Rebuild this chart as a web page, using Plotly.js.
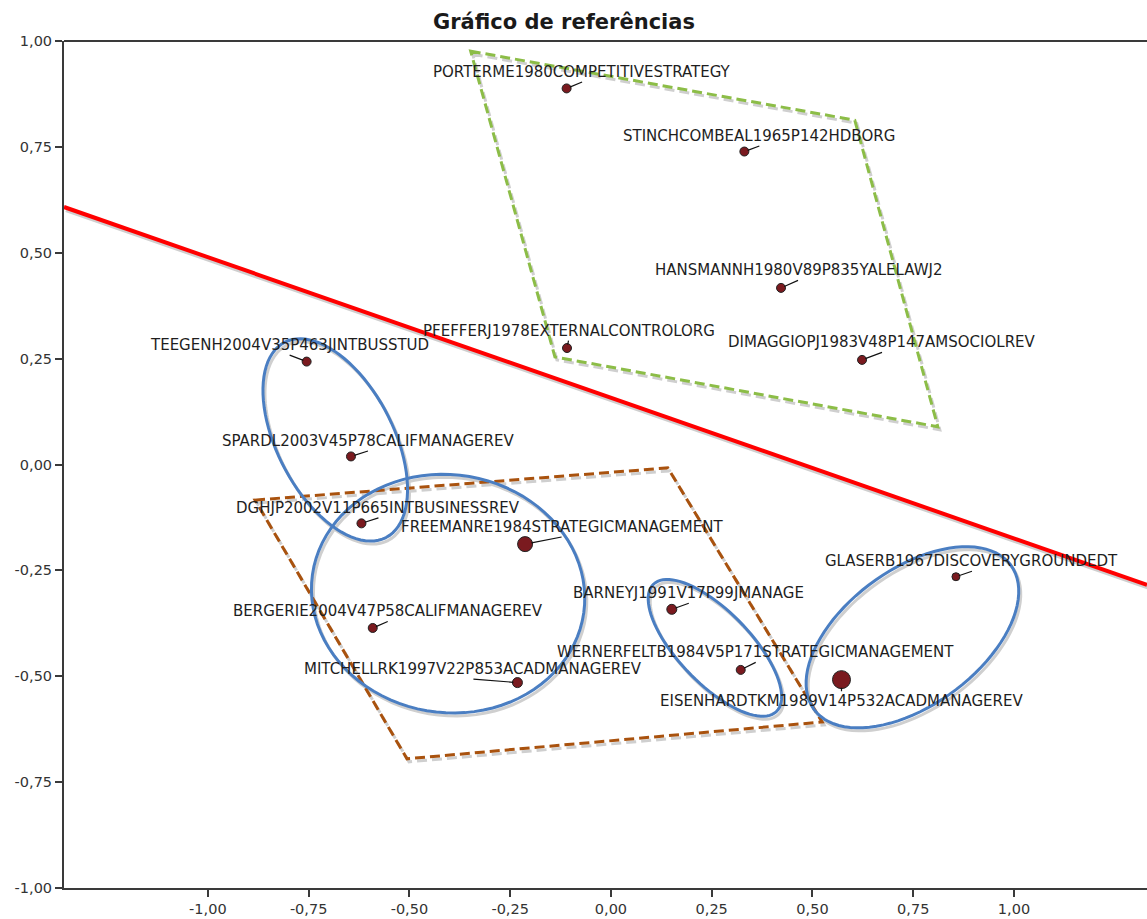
<!DOCTYPE html>
<html><head><meta charset="utf-8">
<script src="https://cdn.plot.ly/plotly-3.0.1.min.js"></script>
<style>html,body{margin:0;padding:0;background:#fff}</style>
</head><body><div id="chart" style="width:1147px;height:919px"></div>
<script>
// ---- data ----
const refNames = [
  "PORTERME1980COMPETITIVESTRATEGY",
  "STINCHCOMBEAL1965P142HDBORG",
  "HANSMANNH1980V89P835YALELAWJ2",
  "PFEFFERJ1978EXTERNALCONTROLORG",
  "DIMAGGIOPJ1983V48P147AMSOCIOLREV",
  "TEEGENH2004V35P463JINTBUSSTUD",
  "SPARDL2003V45P78CALIFMANAGEREV",
  "DGHJP2002V11P665INTBUSINESSREV",
  "FREEMANRE1984STRATEGICMANAGEMENT",
  "BARNEYJ1991V17P99JMANAGE",
  "BERGERIE2004V47P58CALIFMANAGEREV",
  "WERNERFELTB1984V5P171STRATEGICMANAGEMENT",
  "MITCHELLRK1997V22P853ACADMANAGEREV",
  "EISENHARDTKM1989V14P532ACADMANAGEREV",
  "GLASERB1967DISCOVERYGROUNDEDT"
];
const refX = [-0.110, 0.331, 0.422, -0.109, 0.623, -0.755, -0.645, -0.619, -0.213, 0.151, -0.591, 0.322, -0.232, 0.572, 0.856];
const refY = [0.888, 0.739, 0.417, 0.275, 0.247, 0.243, 0.019, -0.139, -0.188, -0.342, -0.386, -0.485, -0.515, -0.508, -0.265];

const xTickVals = [-1, -0.75, -0.5, -0.25, 0, 0.25, 0.5, 0.75, 1];
const xTickText = ["-1,00", "-0,75", "-0,50", "-0,25", "0,00", "0,25", "0,50", "0,75", "1,00"];
const yTickVals = [-1, -0.75, -0.5, -0.25, 0, 0.25, 0.5, 0.75, 1];
const yTickText = ["-1,00", "-0,75", "-0,50", "-0,25", "0,00", "0,25", "0,50", "0,75", "1,00"];

// ---- styling / layout helpers ----
const markerSizes = [9, 9, 9, 9, 9, 9, 9, 9, 15, 10, 9, 9, 10, 18, 8];
// label centre offsets from point, px (x right, y down)
const labelOffsets = [[15.5,-17],[15,-16],[17,-18],[1.5,-18],[20,-18],[-17,-17],[17,-16],[17,-16],[36.5,-17.6],[17,-16.6],[15,-17],[15,-18],[-44,-14],[0,22],[16,-16]];
const labelHalfH = 10.5;

const xRange = [-1.357, 1.330], yRange = [-1, 1];
const W = 1147, H = 919, M = {l: 64, r: 0, t: 41, b: 31};
const sx = (W - M.l - M.r) / (xRange[1] - xRange[0]);
const sy = (H - M.t - M.b) / (yRange[1] - yRange[0]);

const greenPoly = {x: [-0.348, 0.605, 0.811, -0.139], y: [0.976, 0.813, 0.089, 0.254]};
const brownPoly = {x: [-0.883, 0.141, 0.524, -0.506], y: [-0.084, -0.008, -0.608, -0.695]};
const redLine = {x: [-1.357, 1.330], y: [0.608, -0.284]};
// ellipses: centre (data), semi-axes (px), angle (deg, screen)
const ellipses = [
  {cx: -0.684, cy: 0.058, a: 110, b: 58, phi: 62.5},
  {cx: -0.404, cy: -0.305, a: 137, b: 119, phi: 8},
  {cx: 0.258, cy: -0.433, a: 88.5, b: 36, phi: 46},
  {cx: 0.748, cy: -0.408, a: 122, b: 68, phi: -36.2}
];

function polyPath(p, ox, oy) {
  return p.x.map((v, i) => (i ? 'L' : 'M') + (v + ox) + ',' + (p.y[i] + oy)).join(' ') + ' Z';
}
function ellPath(e, ox, oy) {
  const ph = e.phi * Math.PI / 180, n = 90;
  let s = '';
  for (let i = 0; i <= n; i++) {
    const t = 2 * Math.PI * i / n;
    const dx = e.a * Math.cos(t) * Math.cos(ph) - e.b * Math.sin(t) * Math.sin(ph);
    const dy = e.a * Math.cos(t) * Math.sin(ph) + e.b * Math.sin(t) * Math.cos(ph);
    s += (i ? 'L' : 'M') + (e.cx + dx / sx + ox) + ',' + (e.cy - dy / sy + oy) + ' ';
  }
  return s + 'Z';
}
const shX = 2 / sx, shY = -3 / sy;
const shadow = '#cfcfcf';
const shapes = [];
// shadows
shapes.push({type: 'path', path: polyPath(greenPoly, shX, shY), line: {color: shadow, width: 3, dash: '10px,5px'}, layer: 'below'});
shapes.push({type: 'path', path: polyPath(brownPoly, shX, shY), line: {color: shadow, width: 3, dash: '10px,5px'}, layer: 'below'});
ellipses.forEach(e => shapes.push({type: 'path', path: ellPath(e, shX, shY), line: {color: shadow, width: 3}, layer: 'below'}));
shapes.push({type: 'line', x0: redLine.x[0] + shX, y0: redLine.y[0] + shY, x1: redLine.x[1] + shX, y1: redLine.y[1] + shY, line: {color: shadow, width: 4}, layer: 'below'});
// main shapes
shapes.push({type: 'path', path: polyPath(greenPoly, 0, 0), line: {color: '#8cbd47', width: 3, dash: '10px,5px'}});
shapes.push({type: 'path', path: polyPath(brownPoly, 0, 0), line: {color: '#a9520e', width: 3, dash: '10px,5px'}});
ellipses.forEach(e => shapes.push({type: 'path', path: ellPath(e, 0, 0), line: {color: '#4a7ec2', width: 3}}));
shapes.push({type: 'line', x0: redLine.x[0], y0: redLine.y[0], x1: redLine.x[1], y1: redLine.y[1], line: {color: '#ff0000', width: 4}});
// top frame line
shapes.push({type: 'line', xref: 'paper', yref: 'paper', x0: 0, x1: 1, y0: 1, y1: 1, line: {color: '#3a3a3a', width: 2}});

const annotations = refNames.map((nm, i) => {
  const above = labelOffsets[i][1] < 0;
  return {
    x: refX[i], y: refY[i], text: nm,
    showarrow: true, arrowhead: 0, arrowwidth: 1.2, arrowcolor: '#111',
    ax: labelOffsets[i][0],
    ay: labelOffsets[i][1] + (above ? labelHalfH : -labelHalfH),
    xanchor: 'center', yanchor: above ? 'bottom' : 'top',
    standoff: markerSizes[i] / 2 - 1,
    font: {family: 'DejaVu Sans', size: 15, color: '#1e1e1e'},
    borderpad: 0
  };
});

const trace = {
  type: 'scatter', mode: 'markers', x: refX, y: refY, text: refNames,
  marker: {size: markerSizes, color: '#7a1a1f', opacity: 1, line: {color: '#222', width: 1}},
  cliponaxis: false, hoverinfo: 'text'
};

const axisCommon = {
  showgrid: false, zeroline: false, showline: true, linecolor: '#3a3a3a', linewidth: 2,
  ticks: 'outside', ticklen: 7, tickwidth: 2, tickcolor: '#3a3a3a',
  tickfont: {family: 'DejaVu Sans', size: 14.5, color: '#333'}, tickmode: 'array'
};

const layout = {
  width: W, height: H, margin: M, paper_bgcolor: '#fff', plot_bgcolor: '#fff',
  showlegend: false,
  title: {text: '<b>Gráfico de referências</b>', x: 0.4917, xanchor: 'center', y: 0.976, yanchor: 'middle',
    font: {family: 'DejaVu Sans', size: 21, color: '#1a1a1a'}},
  xaxis: Object.assign({}, axisCommon, {range: xRange, tickvals: xTickVals, ticktext: xTickText}),
  yaxis: Object.assign({}, axisCommon, {range: yRange, tickvals: yTickVals, ticktext: yTickText}),
  shapes: shapes, annotations: annotations
};

Plotly.newPlot('chart', [trace], layout, {displayModeBar: false, staticPlot: true});
</script></body></html>
